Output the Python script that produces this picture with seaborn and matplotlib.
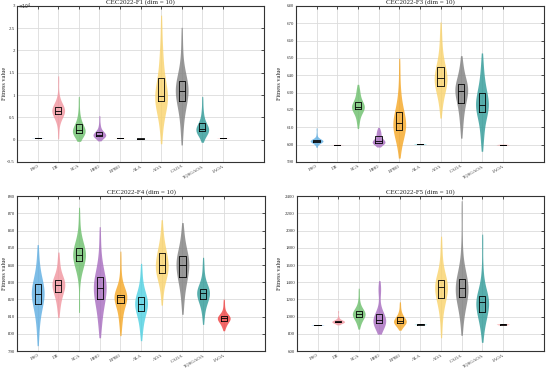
import numpy as np
import pandas as pd
import matplotlib
matplotlib.use("Agg")
import matplotlib.pyplot as plt
from matplotlib.ticker import FuncFormatter, MultipleLocator
import seaborn as sns

algorithms = ["PSO", "DE", "SCA", "HHO", "BPBO", "ALA", "AOA", "CAOA", "TQSGAOA", "IAOA"]
colors = ["#5DADE2", "#F1949E", "#6BBF6B", "#A66BBE", "#F5A623",
          "#4DD0E1", "#F9D36A", "#7F7F7F", "#2E9A98", "#F04040"]

titles = ["CEC2022-F1 (dim = 10)", "CEC2022-F3 (dim = 10)",
          "CEC2022-F4 (dim = 10)", "CEC2022-F5 (dim = 10)"]
ylims = [(-5000, 30000), (590, 680), (790, 880), (600, 2400)]
ysteps = [5000, 10, 10, 200]

f1 = {
    "PSO": [380, 390, 400, 405, 410, 410, 415, 420, 420, 425, 430, 430, 435, 440, 445, 450, 455, 460, 470, 490],
    "DE": [1000, 3500, 4500, 5200, 5600, 5800, 6000, 6200, 6400, 6500, 6500, 6700, 6900, 7100, 7200, 7400, 7800, 8500, 10000, 13500],
    "SCA": [300, 800, 1100, 1300, 1400, 1500, 1700, 1900, 2000, 2100, 2100, 2300, 2600, 3000, 3400, 3700, 4200, 5000, 6500, 9000],
    "HHO": [100, 400, 600, 700, 800, 850, 900, 1000, 1050, 1100, 1100, 1200, 1300, 1500, 1700, 1900, 2200, 2800, 3600, 5000],
    "BPBO": [290, 295, 300, 300, 305, 305, 310, 310, 315, 320],
    "ALA": [240, 245, 250, 250, 255, 255, 260],
    "AOA": [1000, 4000, 6000, 7500, 8200, 8700, 9000, 9300, 9500, 9700, 9800, 10200, 11000, 12000, 13500, 15000, 16500, 18500, 21000, 26000],
    "CAOA": [500, 3500, 5500, 7000, 8000, 8800, 9500, 10000, 10500, 10800, 11200, 11500, 12000, 12500, 13000, 13400, 14500, 16000, 19000, 23500],
    "TQSGAOA": [100, 900, 1300, 1600, 1800, 1900, 2000, 2200, 2300, 2400, 2400, 2600, 2800, 3100, 3500, 4000, 4600, 5500, 6800, 9000],
    "IAOA": [280, 290, 300, 300, 310, 320],
}
f3 = {
    "PSO": [599, 600.5, 601.2, 601.5, 601.7, 601.8, 601.9, 602.0, 602.0, 602.1, 602.1, 602.2, 602.3, 602.4, 602.5, 602.7, 603, 604, 606, 609],
    "DE": [599.9, 600.0, 600.0, 600.0, 600.1],
    "SCA": [611, 614, 616.5, 618, 619.5, 620.5, 621, 621.3, 621.5, 621.5, 621.7, 622, 622.5, 623.5, 624.5, 625.5, 627, 629, 631, 633],
    "HHO": [599.5, 600.2, 600.6, 600.9, 601.0, 601.2, 601.4, 601.6, 601.7, 601.8, 601.9, 602.3, 603, 603.8, 604.5, 605.5, 606.3, 607, 608, 609],
    "BPBO": [596, 601, 604, 606, 607.5, 608.5, 609.5, 610.5, 611.5, 612.3, 612.8, 613.5, 615, 616.5, 618.5, 620.5, 623, 627, 634, 646],
    "ALA": [600.0, 600.1, 600.2, 600.2, 600.3, 600.4],
    "AOA": [619, 625, 629, 631, 633, 634, 635.5, 636.5, 637.5, 638.3, 638.8, 639.5, 641, 642.5, 644.5, 646, 649, 653, 659, 667],
    "CAOA": [607, 613, 617, 620, 623, 624.5, 626.5, 628, 629.5, 630.5, 631.5, 632, 632.5, 633.5, 634.5, 635.5, 637, 640, 643, 648],
    "TQSGAOA": [600, 606, 610, 614, 617.5, 619.5, 620.5, 621.5, 622.3, 622.8, 623.3, 624, 625.5, 627.5, 629.5, 631.5, 634, 637, 642, 649],
    "IAOA": [599.9, 600, 600, 600.1],
}
f4 = {
    "PSO": [797, 805, 810, 813, 816, 818, 819.5, 821, 822, 822.7, 823.3, 824.5, 826, 827.5, 828.5, 829.5, 832, 835, 840, 848],
    "DE": [812, 816.5, 819.5, 821.5, 823.5, 824.5, 825.5, 826.5, 827.5, 828.3, 828.8, 829.5, 830, 830.5, 831, 831.8, 833.5, 836, 840, 845],
    "SCA": [816, 832, 837, 839.5, 841.5, 842.5, 843.5, 844.5, 845, 845.5, 846, 846.5, 847.5, 848.5, 849.5, 850.5, 852, 855, 860, 870],
    "HHO": [802, 808, 812, 815.5, 818.5, 820.5, 822, 823.5, 825, 826, 827, 828, 829.5, 831, 832.5, 833.5, 836, 840, 846, 858],
    "BPBO": [802, 808, 810, 812.5, 816, 818.2, 819.5, 820.5, 821, 821.4, 821.8, 822, 822.2, 822.4, 822.6, 823, 825, 829, 835, 845],
    "ALA": [799, 804, 807.5, 810, 812, 813.5, 814.5, 815.5, 816.5, 817.3, 817.8, 818.5, 819.5, 820.5, 821.5, 822.2, 824, 827, 831, 838],
    "AOA": [820, 827, 830.5, 833, 834.5, 835.5, 836.5, 837.5, 838.8, 839.7, 840.3, 841.5, 843, 845, 846.5, 847.5, 849.5, 852, 856, 863],
    "CAOA": [815, 822, 826, 829.5, 832, 833.3, 834.5, 836, 838, 839.5, 840.5, 841.5, 842.5, 843.5, 845, 846, 848, 851, 855, 861],
    "TQSGAOA": [808, 813, 816, 818, 819.5, 820.3, 821, 822, 823, 823.7, 824.3, 824.8, 825.3, 825.7, 826, 826.6, 828.5, 831.5, 835.5, 842],
    "IAOA": [803, 804.5, 805.5, 806.5, 807.2, 807.7, 808.1, 808.5, 808.8, 809, 809.2, 809.5, 809.8, 810.1, 810.3, 810.6, 811.5, 813, 815.5, 819],
}
f5 = {
    "PSO": [898, 900, 901, 902, 903, 903, 904, 905, 906, 908],
    "DE": [915, 925, 930, 932, 935, 937, 938, 940, 941, 942, 943, 945, 947, 949, 951, 954, 960, 975, 1000, 1060],
    "SCA": [885, 920, 950, 975, 990, 1000, 1010, 1018, 1024, 1029, 1033, 1040, 1048, 1057, 1066, 1075, 1095, 1130, 1190, 1300],
    "HHO": [845, 870, 890, 905, 920, 930, 940, 947, 953, 958, 964, 975, 990, 1010, 1030, 1045, 1100, 1280, 1320, 1370],
    "BPBO": [865, 885, 900, 910, 920, 928, 935, 940, 945, 948, 952, 957, 965, 975, 990, 1000, 1015, 1040, 1080, 1150],
    "ALA": [905, 907, 908, 910, 910, 911, 912, 914],
    "AOA": [830, 1000, 1100, 1160, 1200, 1225, 1260, 1290, 1315, 1335, 1345, 1360, 1380, 1400, 1420, 1435, 1480, 1560, 1680, 1860],
    "CAOA": [880, 1020, 1110, 1170, 1210, 1235, 1260, 1285, 1305, 1320, 1335, 1360, 1385, 1410, 1435, 1450, 1500, 1620, 1850, 2250],
    "TQSGAOA": [780, 900, 960, 1000, 1040, 1065, 1090, 1115, 1140, 1160, 1175, 1190, 1205, 1220, 1235, 1250, 1300, 1400, 1560, 1880],
    "IAOA": [905, 907, 908, 910, 910, 911, 912, 914],
}
panels = [f1, f3, f4, f5]

sns.set_theme(style="white")
plt.rcParams["font.family"] = ["Liberation Serif", "DejaVu Serif"]
plt.rcParams["axes.unicode_minus"] = False

fig = plt.figure(figsize=(5.5, 3.68), dpi=100)
positions = [
    [0.031, 0.560, 0.449, 0.424],
    [0.538, 0.560, 0.451, 0.424],
    [0.031, 0.046, 0.451, 0.421],
    [0.540, 0.046, 0.449, 0.421],
]
label_x = [-0.04, -0.058, -0.04, -0.062]
palette = dict(zip(algorithms, colors))

for i, (data, pos) in enumerate(zip(panels, positions)):
    ax = fig.add_axes(pos)
    rows = [(alg, v) for alg in algorithms for v in data[alg]]
    df = pd.DataFrame(rows, columns=["alg", "val"])
    sns.violinplot(data=df, x="alg", y="val", hue="alg", order=algorithms,
                   hue_order=algorithms, palette=palette, legend=False,
                   density_norm="width", width=0.62, inner=None, cut=0.6,
                   linewidth=0, saturation=1, alpha=0.8, ax=ax)
    sns.boxplot(data=df, x="alg", y="val", order=algorithms, fill=False,
                width=0.3, whis=(25, 75), showfliers=False, showcaps=False,
                color="black", linecolor="black", linewidth=0.6, ax=ax)
    ax.set_xlim(-1, 11)
    ax.set_ylim(*ylims[i])
    ax.yaxis.set_major_locator(MultipleLocator(ysteps[i]))
    if i == 0:
        ax.yaxis.set_major_formatter(FuncFormatter(lambda v, p: f"{v/1e4:g}"))
        ax.text(0.005, 1.0, r"$\times10^{4}$", transform=ax.transAxes,
                fontsize=3.3, ha="left", va="center", color="#333333")
    else:
        ax.yaxis.set_major_formatter(FuncFormatter(lambda v, p: f"{v:g}"))
    ax.set_xlabel("")
    ax.set_ylabel("Fitness value", fontsize=4.5, color="#222222")
    ax.yaxis.set_label_coords(label_x[i], 0.5)
    ax.set_title(titles[i], fontsize=5, pad=1.5, color="#222222")
    ax.grid(True, color="#dcdcdc", linewidth=0.6)
    ax.set_axisbelow(True)
    ax.tick_params(axis="both", direction="in", length=2.5, width=0.6,
                   labelsize=3.5, top=True, right=True, pad=1.5,
                   colors="#333333")
    ax.set_xticks(range(len(algorithms)))
    ax.set_xticklabels(algorithms, rotation=30, ha="right",
                       rotation_mode="anchor")
    for s in ax.spines.values():
        s.set_color("#333333")
        s.set_linewidth(0.8)

fig.savefig("out.png", dpi=100)
